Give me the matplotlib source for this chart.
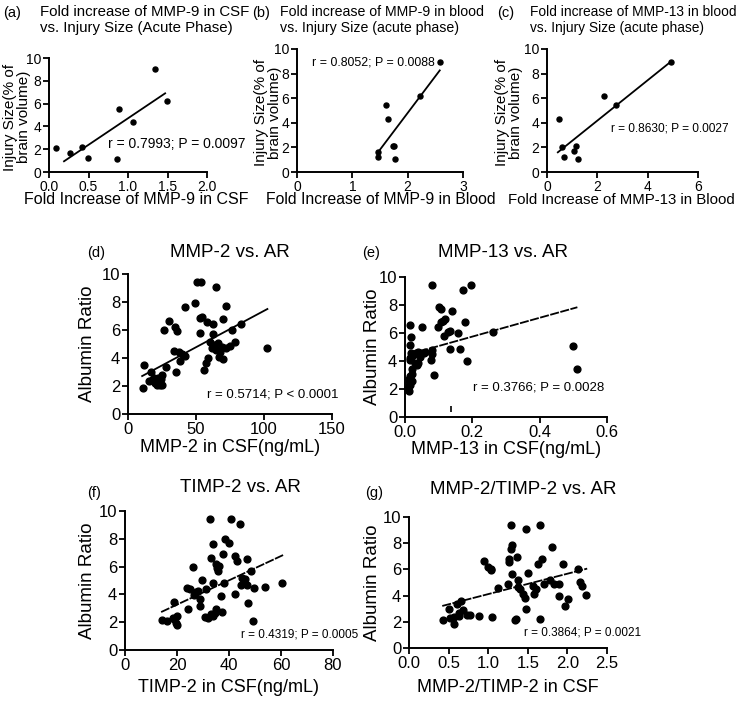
import numpy as np
import matplotlib.pyplot as plt

plt.rcParams['font.family'] = ['Liberation Sans', 'DejaVu Sans']

W, H = 740, 702

# ---- top row: injury size (same patients) ----
inj_y = [2.1, 1.7, 2.2, 1.2, 1.1, 5.5, 4.35, 9.0, 6.26]
a_x = [0.09, 0.26, 0.42, 0.49, 0.86, 0.88, 1.06, 1.34, 1.49]
a_fit_x = [0.19, 1.47]
a_fit_y = [0.94, 6.9]

b_x = [1.73, 1.47, 1.75, 1.46, 1.78, 1.60, 1.64, 2.59, 2.22]
b_y = [2.1, 1.64, 2.1, 1.23, 1.04, 5.45, 4.3, 8.94, 6.19]
b_fit_x = [1.47, 2.58]
b_fit_y = [1.64, 8.26]

c_x = [0.46, 0.59, 0.68, 1.08, 1.15, 1.24, 2.28, 2.74, 4.92]
c_y = [4.3, 2.04, 1.23, 1.69, 2.1, 1.09, 6.21, 5.45, 8.97]
c_fit_x = [0.43, 4.92]
c_fit_y = [1.6, 8.97]

# ---- albumin ratio panels ----
d_x = [10.7, 11.9, 16.9, 15.4, 17.4, 19.4, 19.9, 21.1, 22.3, 22.3, 23.6, 24.3, 24.8, 25.3,
       26.8, 28.0, 30.5, 33.5, 34.2, 35.2, 36.0, 37.2, 38.5, 39.7, 41.7, 42.2, 49.1, 50.9,
       54.0, 52.6, 53.1, 54.6, 58.3, 56.0, 57.6, 59.0, 60.0, 62.5, 62.5, 63.3, 64.5, 65.0,
       66.0, 67.0, 69.0, 70.0, 70.2, 72.0, 72.0, 74.9, 76.4, 78.4, 83.1, 102.5, 61.5, 68.0]
d_y = [1.83, 3.5, 3.0, 2.38, 2.43, 2.55, 2.24, 2.07, 2.3, 2.55, 2.07, 2.48, 2.79, 2.07,
       6.0, 3.33, 6.64, 4.5, 6.19, 3.02, 5.95, 4.45, 3.8, 4.29, 4.14, 7.62, 7.95, 9.45,
       9.4, 6.83, 5.76, 6.95, 6.6, 3.14, 3.62, 4.0, 5.17, 6.43, 5.71, 4.93, 4.57, 9.1,
       5.05, 4.1, 4.8, 3.9, 6.76, 7.71, 4.69, 4.86, 6.0, 5.17, 6.43, 4.69, 4.75, 4.4]
d_fit_x = [10.4, 102.5]
d_fit_y = [2.71, 7.5]

e_x = [0.081, 0.173, 0.195, 0.101, 0.107, 0.139, 0.015, 0.051, 0.097, 0.107, 0.114, 0.119,
       0.178, 0.018, 0.117, 0.129, 0.134, 0.156, 0.262, 0.015, 0.018, 0.025, 0.032, 0.040,
       0.047, 0.055, 0.060, 0.081, 0.079, 0.134, 0.163, 0.183, 0.077, 0.015, 0.030, 0.038,
       0.020, 0.015, 0.012, 0.010, 0.013, 0.086, 0.500, 0.512, 0.012, 0.016, 0.020, 0.022,
       0.018, 0.014, 0.045, 0.035]
e_y = [9.4, 9.04, 9.45, 7.89, 7.72, 7.6, 6.6, 6.4, 6.4, 6.76, 6.88, 7.0,
       6.76, 5.68, 5.76, 6.04, 6.16, 5.97, 6.04, 5.13, 4.6, 4.45, 4.6, 4.65,
       4.55, 4.6, 4.62, 4.8, 4.5, 4.84, 4.84, 4.0, 4.08, 4.08, 3.88, 3.84,
       3.4, 2.94, 2.46, 2.1, 1.85, 2.97, 5.04, 3.45, 2.7, 2.3, 3.1, 2.6,
       4.3, 4.2, 4.3, 3.7]
e_fit_x = [0.012, 0.512]
e_fit_y = [4.48, 7.84]
e_mark = (0.136, 0.6)

f_x = [14.1, 16.1, 18.6, 19.5, 19.9, 19.9, 18.9, 24.2, 24.0, 25.0, 26.2, 26.7, 27.2, 28.0,
       29.0, 28.8, 29.8, 31.1, 30.8, 31.9, 32.8, 33.2, 34.0, 34.7, 35.0, 33.7, 33.2, 34.0,
       35.0, 35.4, 35.7, 36.0, 37.0, 37.3, 37.5, 38.3, 37.9, 40.1, 40.9, 42.2, 42.4, 43.0,
       44.3, 45.0, 46.0, 44.7, 47.0, 46.9, 47.3, 48.6, 49.1, 49.5, 54.0, 60.4, 19.0]
f_y = [2.16, 2.09, 2.33, 1.97, 1.8, 2.45, 3.48, 2.97, 4.48, 4.41, 5.97, 3.93, 4.17, 4.24,
       3.64, 3.17, 5.04, 4.41, 2.37, 2.33, 9.4, 2.57, 2.45, 2.69, 2.97, 7.6, 6.64, 4.84,
       6.16, 5.92, 5.68, 6.04, 3.88, 2.73, 6.88, 7.96, 4.84, 7.72, 9.4, 4.0, 6.76, 6.4,
       9.04, 5.2, 5.13, 4.65, 4.65, 6.57, 3.36, 5.68, 2.09, 4.48, 4.56, 4.8, 2.2]
f_fit_x = [13.9, 60.8]
f_fit_y = [2.73, 6.83]

g_x = [0.43, 0.50, 0.52, 0.57, 0.57, 0.60, 0.63, 0.63, 0.66, 0.68, 0.73, 0.77, 0.89, 1.05,
       0.95, 1.00, 1.03, 1.04, 1.13, 1.25, 1.26, 1.26, 1.29, 1.29, 1.30, 1.30, 1.34, 1.35,
       1.36, 1.38, 1.38, 1.40, 1.44, 1.47, 1.48, 1.48, 1.50, 1.57, 1.58, 1.60, 1.63, 1.66,
       1.66, 1.68, 1.71, 1.78, 1.80, 1.83, 1.89, 1.89, 1.95, 1.97, 2.01, 2.13, 2.16, 2.18, 2.24]
g_y = [2.11, 3.0, 2.29, 1.86, 2.37, 3.38, 2.70, 2.44, 3.56, 2.88, 2.49, 2.54, 2.44, 2.37,
       6.62, 6.18, 6.06, 5.93, 4.58, 4.86, 6.56, 6.82, 9.41, 7.58, 7.89, 5.67, 2.11, 2.19,
       6.95, 5.17, 4.66, 4.53, 4.15, 3.82, 3.0, 9.06, 5.75, 4.73, 4.15, 4.48, 6.44, 9.41,
       2.24, 6.82, 4.91, 5.17, 7.71, 4.91, 4.91, 3.97, 6.39, 3.18, 3.72, 6.06, 5.04, 4.73, 4.02]
g_fit_x = [0.42, 2.25]
g_fit_y = [3.21, 6.06]


def px(x, y):
    return x / W, 1 - y / H


def make_ax(l, t, r, b):
    ax = fig.add_axes([l / W, 1 - b / H, (r - l) / W, (b - t) / H])
    for s in ['top', 'right']:
        ax.spines[s].set_visible(False)
    for s in ['left', 'bottom']:
        ax.spines[s].set_linewidth(1.4)
    ax.tick_params(direction='out', length=4, width=1.3, pad=1.5)
    return ax


fig = plt.figure(figsize=(W / 100, H / 100), dpi=100)

top = [
    ((49, 58, 207, 172), a_x, inj_y, a_fit_x, a_fit_y, 2.0, np.arange(0, 2.01, 0.5), '%.1f',
     'r = 0.7993; P = 0.0097', (0.75, 2.5), 10, 'Fold Increase of MMP-9 in CSF', 136, 11.5,
     '(a)', 3, 40, 'Fold increase of MMP-9 in CSF\nvs. Injury Size (Acute Phase)', 10.8, 17),
    ((297, 49, 463, 172), b_x, b_y, b_fit_x, b_fit_y, 3, [0, 1, 2, 3], '%d',
     'r = 0.8052; P = 0.0088', (0.27, 8.9), 8.9, 'Fold Increase of MMP-9 in Blood', 381, 11.3,
     '(b)', 252, 280, 'Fold increase of MMP-9 in blood\nvs. Injury Size (acute phase)', 10.2, 268),
    ((547, 49, 698, 172), c_x, c_y, c_fit_x, c_fit_y, 6, [0, 2, 4, 6], '%d',
     'r = 0.8630; P = 0.0027', (2.53, 3.54), 8.6, 'Fold Increase of MMP-13 in Blood', 621, 10.8,
     '(c)', 497, 530, 'Fold increase of MMP-13 in blood\nvs. Injury Size (acute phase)', 9.9, 509),
]

for (box, xs, ys, fx, fy, xmax, xt, fmt, rtxt, rpos, rsize, xlab, xlx, xls,
     tag, tagx, titx, title, tsize, ylx) in top:
    ax = make_ax(*box)
    ax.scatter(xs, ys, s=13, color='black', clip_on=False, zorder=3)
    ax.plot(fx, fy, color='black', lw=1.3)
    ax.set_xlim(0, xmax)
    ax.set_ylim(0, 10)
    ax.set_xticks(xt)
    ax.set_xticklabels([fmt % v for v in xt])
    ax.set_yticks([0, 2, 4, 6, 8, 10])
    ax.tick_params(labelsize=10)
    ax.text(rpos[0], rpos[1], rtxt, fontsize=rsize, va='center')
    fig.text(*px(xlx, 200), xlab, fontsize=xls, ha='center', va='center')
    fig.text(*px(tagx, 13), tag, fontsize=10.5, va='center')
    fig.text(*px(titx, 5), title, fontsize=tsize, va='top', linespacing=1.15)
    fig.text(*px(ylx, (box[1] + box[3]) / 2 + 2), 'Injury Size(% of\nbrain volume)',
             fontsize=11, rotation=90, ha='center', va='center', linespacing=1.0)

bottom = [
    ((128, 274, 332, 414), d_x, d_y, d_fit_x, d_fit_y, 150, [0, 50, 100, 150], '%d',
     'r = 0.5714; P < 0.0001', (58.1, 1.36), 9.5, 'MMP-2 in CSF(ng/mL)', 448,
     '(d)', (87, 253), 'MMP-2 vs. AR', (230, 252), 87, '-'),
    ((405, 277, 607, 417), e_x, e_y, e_fit_x, e_fit_y, 0.6, [0, 0.2, 0.4, 0.6], '%.1f',
     'r = 0.3766; P = 0.0028', (0.203, 2.09), 9.5, 'MMP-13 in CSF(ng/mL)', 450,
     '(e)', (362, 253), 'MMP-13 vs. AR', (503, 252), 373, (0, (5, 0.8))),
    ((125, 511, 333, 650), f_x, f_y, f_fit_x, f_fit_y, 80, [0, 20, 40, 60, 80], '%d',
     'r = 0.4319; P = 0.0005', (44.8, 1.14), 8.5, 'TIMP-2 in CSF(ng/mL)', 687,
     '(f)', (87, 493), 'TIMP-2 vs. AR', (240, 488), 88, (0, (5, 0.8))),
    ((409, 517, 607, 648), g_x, g_y, g_fit_x, g_fit_y, 2.5, [0, 0.5, 1.0, 1.5, 2.0, 2.5], '%.1f',
     'r = 0.3864; P = 0.0021', (1.45, 1.19), 8.5, 'MMP-2/TIMP-2 in CSF', 687,
     '(g)', (365, 493), 'MMP-2/TIMP-2 vs. AR', (523, 490), 373, (0, (5, 0.8))),
]

for (box, xs, ys, fx, fy, xmax, xt, fmt, rtxt, rpos, rsize, xlab, xly,
     tag, tagpos, title, titpos, ylx, ls) in bottom:
    ax = make_ax(*box)
    ax.scatter(xs, ys, s=24, color='black', clip_on=False, zorder=3)
    ax.plot(fx, fy, color='black', lw=1.3, linestyle=ls)
    ax.set_xlim(0, xmax)
    ax.set_ylim(0, 10)
    ax.set_xticks(xt)
    ax.set_xticklabels([fmt % v for v in xt])
    ax.set_yticks([0, 2, 4, 6, 8, 10])
    ax.tick_params(labelsize=12)
    ax.text(rpos[0], rpos[1], rtxt, fontsize=rsize, va='center')
    if tag == '(e)':
        ax.plot([e_mark[0]], [e_mark[1]], marker='|', color='black', markersize=4, mew=1.2)
    cx = (box[0] + box[2]) / 2
    fig.text(*px(cx, xly), xlab, fontsize=13, ha='center', va='center')
    fig.text(*px(*tagpos), tag, fontsize=10.5, va='center')
    fig.text(*px(*titpos), title, fontsize=13.5, ha='center', va='center')
    fig.text(*px(ylx, (box[1] + box[3]) / 2), 'Albumin Ratio', fontsize=13.5,
             rotation=90, ha='center', va='center')

fig.savefig('out.png', dpi=100)
